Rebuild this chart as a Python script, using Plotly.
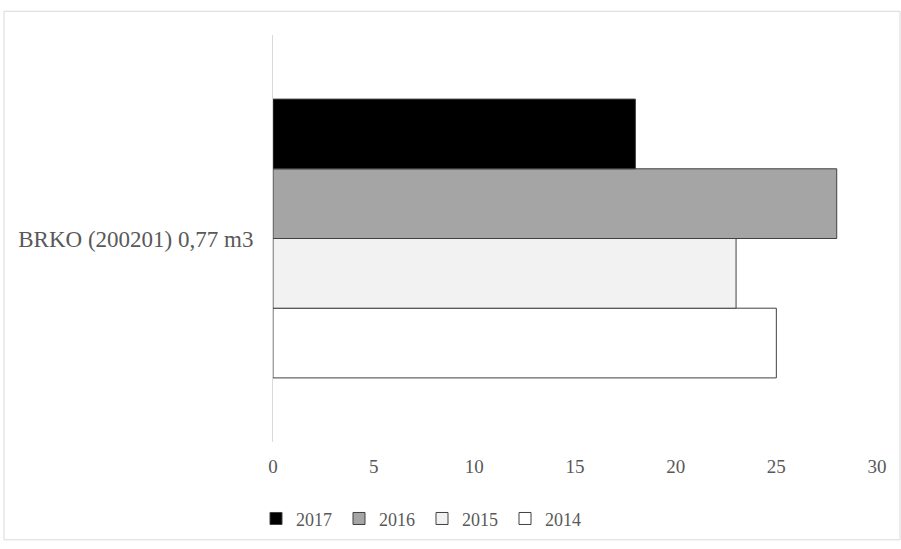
import plotly.graph_objects as go

category = ["BRKO (200201) 0,77 m3"]
years = ["2014", "2015", "2016", "2017"]
values = {"2014": [25], "2015": [23], "2016": [28], "2017": [18]}
fills = {"2014": "#ffffff", "2015": "#f2f2f2", "2016": "#a5a5a5", "2017": "#000000"}
x_ticks = [0, 5, 10, 15, 20, 25, 30]

fig = go.Figure()
for yr in years:
    fig.add_trace(go.Bar(
        name=yr,
        y=category,
        x=values[yr],
        orientation="h",
        marker=dict(color=fills[yr], line=dict(color="#404040", width=1)),
    ))

W, H = 901, 549
ml, mr, mt, mb = 273, 24, 35, 102
pw, ph = W - ml - mr, H - mt - mb

def px_x(p):
    return (p - ml) / pw

def px_y(p):
    return (H - mb - p) / ph

fig.update_layout(
    width=W, height=H,
    margin=dict(l=ml, r=mr, t=mt, b=mb),
    paper_bgcolor="white",
    plot_bgcolor="white",
    barmode="group",
    bargap=0.315,
    bargroupgap=0,
    font=dict(family="Liberation Serif, Times New Roman, serif", color="#595959", size=19),
    xaxis=dict(
        range=[0, 30], tickvals=x_ticks, showgrid=False, zeroline=False,
        showline=False, ticks="", tickfont=dict(size=19), ticklabelstandoff=11,
    ),
    yaxis=dict(
        showgrid=False, zeroline=False, showline=True, linecolor="#d9d9d9",
        linewidth=1, ticks="", tickfont=dict(size=23), ticklabelstandoff=14,
    ),
    legend=dict(
        orientation="h", traceorder="reversed", x=px_x(256), y=px_y(506),
        xanchor="left", yanchor="top", font=dict(size=18),
        entrywidth=38, entrywidthmode="pixels", itemwidth=30,
    ),
    shapes=[dict(
        type="rect", xref="paper", yref="paper",
        x0=px_x(4), x1=px_x(900), y0=px_y(546), y1=px_y(11),
        line=dict(color="#d9d9d9", width=1), fillcolor="rgba(0,0,0,0)", layer="below",
    )],
)

fig.write_html("out.html")
